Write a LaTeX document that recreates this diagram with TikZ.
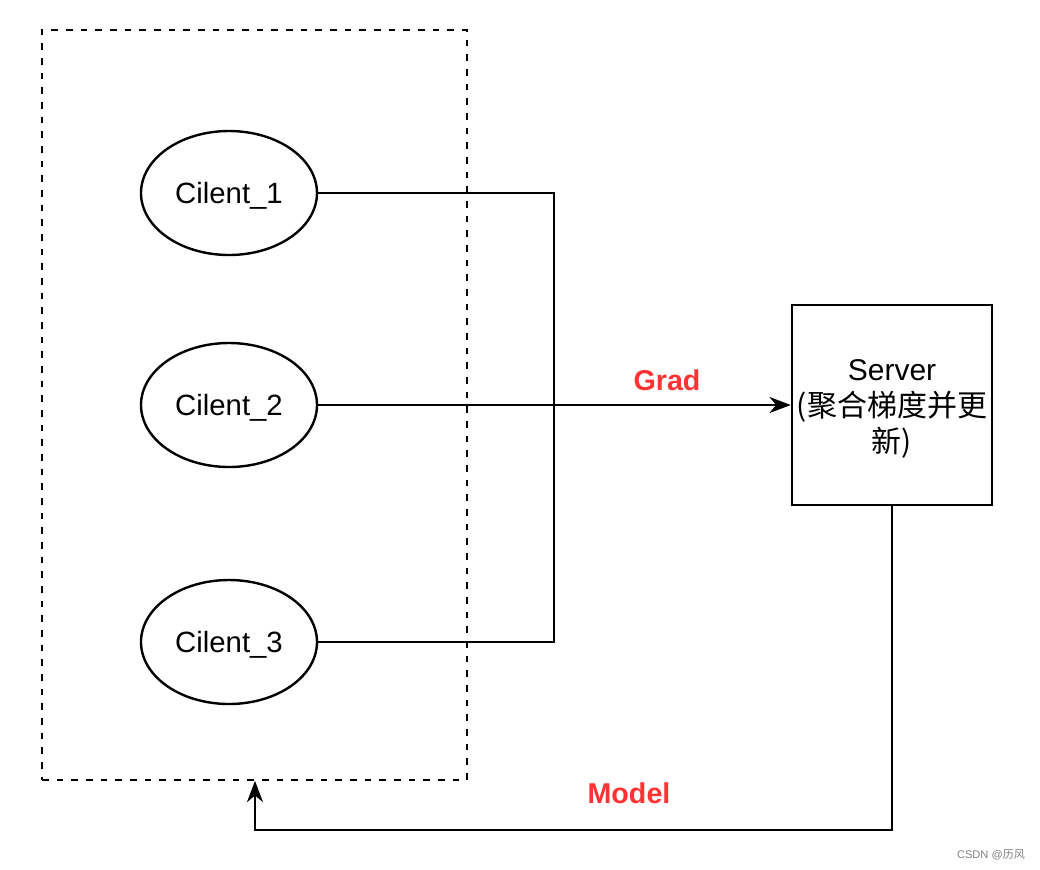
\documentclass[tikz,border=0pt]{standalone}
\usepackage{fontspec}
\setmainfont{Liberation Sans}
\newfontfamily\cjk{Noto Sans CJK SC}
\usetikzlibrary{arrows.meta,shapes.geometric}
\definecolor{lblred}{HTML}{FF3333}
\begin{document}
\begin{tikzpicture}[x=0.75pt,y=-0.75pt,
  client/.style={draw,line width=1.8pt,ellipse,minimum width=132pt,minimum height=93pt,inner sep=0pt,
    label={[font=\fontsize{22}{26}\selectfont,yshift=-2.25pt]center:#1}},
  srvbox/.style={draw,line width=1.8pt,minimum width=150pt,minimum height=150pt,inner sep=0pt,
    label={[align=center,font=\fontsize{22.5}{27}\selectfont,yshift=-3pt]center:#1}},
  groupbox/.style={draw,line width=1.2pt,dash pattern=on 5pt off 6pt,minimum width=318.75pt,minimum height=562.5pt,inner sep=0pt},
  conn/.style={line width=1.8pt},
  arr/.style={conn,-{Stealth[length=16pt,width=12pt,inset=5pt]}},
  lbl/.style={text=lblred,font=\fontsize{21.5}{25}\selectfont\bfseries}
]
\useasboundingbox (0,0) rectangle (1040,869);
\node[groupbox] (grp) at (254.5,405) {};
\node[client={Cilent\_1}] (c1) at (229,193) {};
\node[client={Cilent\_2}] (c2) at (229,405) {};
\node[client={Cilent\_3}] (c3) at (229,642) {};
\node[srvbox={Server\\{\cjk (聚合梯度并更}\\{\cjk 新)}}] (srv) at (892,405) {};
\coordinate (j) at (554,405);
\coordinate (m) at (255,830);
\draw[conn] (c1.east) -| (j) |- (c3.east);
\draw[arr] (c2.east) -- (srv.west);
\draw[arr] (srv.south) |- (m) -- (m |- grp.south);
\node[lbl] (grad) at (667,380) {Grad};
\node[lbl] (model) at (629,793) {Model};
\node[text=gray,font=\fontsize{8.3}{9}\selectfont] (wm) at (991,855) {CSDN @{\cjk 历风}};
\end{tikzpicture}
\end{document}
